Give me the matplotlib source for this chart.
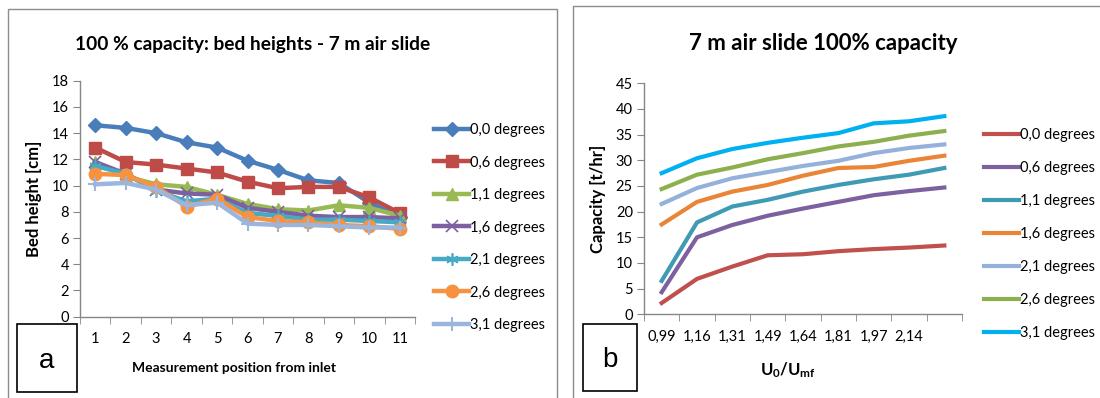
import matplotlib
matplotlib.use("Agg")
import matplotlib.pyplot as plt
from matplotlib.patches import Rectangle
from matplotlib.ticker import FixedLocator, NullFormatter

plt.rcParams['font.family'] = ['Lato', 'DejaVu Sans']
plt.rcParams['mathtext.fontset'] = 'custom'
plt.rcParams['mathtext.rm'] = 'Lato'
plt.rcParams['mathtext.bf'] = 'Lato:bold'

# ---- data -------------------------------------------------------------
series_labels = ["0,0 degrees", "0,6 degrees", "1,1 degrees", "1,6 degrees",
                 "2,1 degrees", "2,6 degrees", "3,1 degrees"]

# (a) bed height [cm] at measurement positions 1..11
positions = [1, 2, 3, 4, 5, 6, 7, 8, 9, 10, 11]
bed_00 = [14.6, 14.4, 14.0, 13.3, 12.9, 11.9, 11.2, 10.4, 10.2, 8.7, 7.6]
bed_06 = [12.9, 11.8, 11.6, 11.3, 11.0, 10.3, 9.8, 9.9, 9.9, 9.1, 7.9]
bed_11 = [11.8, 10.7, 10.1, 9.9, 9.3, 8.6, 8.2, 8.1, 8.5, 8.3, 7.7]
bed_16 = [11.8, 10.9, 9.7, 9.4, 9.3, 8.3, 8.0, 7.7, 7.6, 7.6, 7.5]
bed_21 = [11.5, 10.9, 9.6, 8.8, 9.0, 7.9, 7.7, 7.4, 7.4, 7.3, 7.2]
bed_26 = [10.9, 10.8, 9.9, 8.4, 9.0, 7.6, 7.3, 7.2, 7.0, 6.9, 6.7]
bed_31 = [10.1, 10.2, 9.7, 8.5, 8.7, 7.1, 7.0, 7.0, 6.9, 6.8, 6.8]
bed_ticks = [0, 2, 4, 6, 8, 10, 12, 14, 16, 18]

# (b) capacity [t/hr] versus U0/Umf
velocity_labels = ["0,99", "1,16", "1,31", "1,49", "1,64", "1,81", "1,97", "2,14", ""]
cap_00 = [2.2, 6.9, 9.3, 11.5, 11.7, 12.3, 12.7, 13.0, 13.4]
cap_06 = [4.3, 15.0, 17.4, 19.2, 20.6, 21.9, 23.2, 24.0, 24.7]
cap_11 = [6.5, 17.9, 21.0, 22.3, 23.9, 25.2, 26.3, 27.2, 28.5]
cap_16 = [17.5, 21.9, 23.9, 25.2, 27.0, 28.5, 28.7, 29.9, 30.9]
cap_21 = [21.5, 24.6, 26.5, 27.7, 28.9, 29.9, 31.4, 32.4, 33.1]
cap_26 = [24.4, 27.2, 28.6, 30.2, 31.4, 32.7, 33.6, 34.8, 35.7]
cap_31 = [27.5, 30.4, 32.2, 33.4, 34.4, 35.3, 37.2, 37.6, 38.6]
cap_ticks = [0, 5, 10, 15, 20, 25, 30, 35, 40, 45]

# ---- styling ----------------------------------------------------------
W, H = 1100, 398
fig = plt.figure(figsize=(W / 100, H / 100), dpi=100)
fig.patch.set_facecolor("white")

GRID = "#868686"
TXT = "#000000"

def fx(px):
    return px / W

def fy(py):
    return 1 - py / H

# panel frames
fig.add_artist(Rectangle((fx(8), fy(420)), fx(549), 411 / H,
                         transform=fig.transFigure, fill=False,
                         edgecolor="#8c8c8c", lw=1.0))
fig.add_artist(Rectangle((fx(573), fy(420)), fx(540), 414 / H,
                         transform=fig.transFigure, fill=False,
                         edgecolor="#8c8c8c", lw=1.0))

def style_axes(ax, n, yticks):
    for s in ("top", "right"):
        ax.spines[s].set_visible(False)
    for s in ("left", "bottom"):
        ax.spines[s].set_color(GRID)
        ax.spines[s].set_linewidth(1.0)
    ax.set_xlim(0.5, n + 0.5)
    ax.set_ylim(yticks[0], yticks[-1])
    ax.set_yticks(yticks)
    ax.xaxis.set_minor_locator(FixedLocator([i + 0.5 for i in range(0, n + 1)]))
    ax.xaxis.set_minor_formatter(NullFormatter())
    ax.tick_params(axis="x", which="major", length=0, pad=11, labelsize=10.5,
                   colors=TXT)
    ax.tick_params(axis="x", which="minor", length=5, color=GRID, direction="out")
    ax.tick_params(axis="y", which="major", length=5, color=GRID, direction="out",
                   labelsize=10.5, pad=3, colors=TXT)
    ax.set_facecolor("none")

# ---- (a) bed heights --------------------------------------------------
ax1 = fig.add_axes([fx(80), fy(316.7), fx(335), 236 / H])
bed_series = [bed_00, bed_06, bed_11, bed_16, bed_21, bed_26, bed_31]
bed_colors = ["#4A7EBB", "#BE4B48", "#98B954", "#7D60A0", "#46AAC5", "#F69240", "#9BB6DE"]
bed_markers = ["D", "s", "^", "x", (6, 2, 0), "o", "+"]
bed_msize = [7, 8, 8, 8, 9, 9, 10]
bed_mew = [1, 1, 1, 1.2, 1.2, 1, 1.5]
for vals, col, mk, ms, mw, lab in zip(bed_series, bed_colors, bed_markers,
                                      bed_msize, bed_mew, series_labels):
    ax1.plot(positions, vals, color=col, lw=3.2, marker=mk, markersize=ms,
             markeredgewidth=mw, markeredgecolor=col, markerfacecolor=col,
             label=lab, solid_joinstyle="round")
style_axes(ax1, len(positions), bed_ticks)
ax1.set_xticks(positions)
ax1.set_xticklabels([str(p) for p in positions])
ax1.set_ylabel("Bed height [cm]", fontsize=12, fontweight="bold", labelpad=7)
fig.text(fx(234), fy(368), "Measurement position from inlet", ha="center",
         va="center", fontsize=10, fontweight="bold")
fig.text(fx(253), fy(50), "100 % capacity: bed heights - 7 m air slide",
         ha="center", va="baseline", fontsize=13.8, fontweight="bold")
leg1 = ax1.legend(loc="upper left", bbox_to_anchor=(fx(434), fy(123)),
                  bbox_transform=fig.transFigure, frameon=False, fontsize=10.5,
                  handlelength=2.4, handletextpad=0.1, labelspacing=1.27,
                  borderaxespad=0, borderpad=0)

# label box "a"
fig.add_artist(Rectangle((fx(17), fy(392)), fx(60), 68 / H,
                         transform=fig.transFigure, fill=False,
                         edgecolor="#000000", lw=1.2))
fig.text(fx(47), fy(361), "a", ha="center", va="center", fontsize=20,
         family=["Liberation Sans", "DejaVu Sans"])

# ---- (b) capacity ------------------------------------------------------
ax2 = fig.add_axes([fx(644), fy(314.3), fx(318), 231 / H])
cap_series = [cap_00, cap_06, cap_11, cap_16, cap_21, cap_26, cap_31]
cap_colors = ["#C0504D", "#7D60A0", "#3E9BB3", "#EA8538", "#94B1DB", "#8CB04E", "#00B0F0"]
xs = list(range(1, len(velocity_labels) + 1))
for vals, col, lab in zip(cap_series, cap_colors, series_labels):
    ax2.plot(xs, vals, color=col, lw=3, label=lab, solid_joinstyle="round")
style_axes(ax2, len(xs), cap_ticks)
ax2.set_xticks(xs)
ax2.set_xticklabels(velocity_labels)
ax2.set_ylabel("Capacity [t/hr]", fontsize=12, fontweight="bold", labelpad=7)
fig.text(fx(788), fy(370), r"$\mathbf{U_0/U_{mf}}$", ha="center", va="center",
         fontsize=12)
fig.text(fx(823), fy(50), "7 m air slide 100% capacity", ha="center",
         va="baseline", fontsize=16, fontweight="bold")
leg2 = ax2.legend(loc="upper left", bbox_to_anchor=(fx(984), fy(128)),
                  bbox_transform=fig.transFigure, frameon=False, fontsize=10.5,
                  handlelength=2.4, handletextpad=0.1, labelspacing=1.3,
                  borderaxespad=0, borderpad=0)

fig.add_artist(Rectangle((fx(583), fy(391)), fx(54), 67 / H,
                         transform=fig.transFigure, fill=False,
                         edgecolor="#000000", lw=1.2))
fig.text(fx(610), fy(360), "b", ha="center", va="center", fontsize=20,
         family=["Liberation Sans", "DejaVu Sans"])

fig.savefig("out.png", dpi=100, facecolor="white")
